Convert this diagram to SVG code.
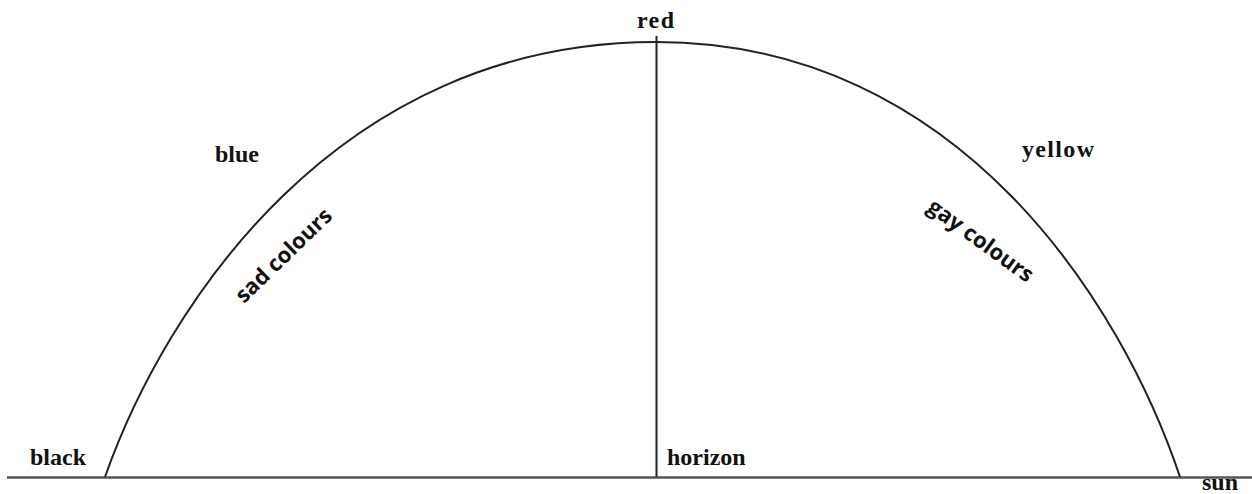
<svg xmlns="http://www.w3.org/2000/svg" width="1252" height="494" viewBox="0 0 1252 494">
<style>
.lbl{font-family:"Liberation Serif",serif;font-weight:bold;font-size:24px;fill:#111}
.rot{font-family:"Open Sans","Liberation Sans",sans-serif;font-weight:bold;font-size:22px;fill:#111}
.ln{fill:none;stroke:#222;stroke-width:2}
</style>
<rect width="1252" height="494" fill="#fff"/>
<g id="connectors">
<line x1="7" y1="477.5" x2="1252" y2="477.5" stroke="#555" stroke-width="2.5"/>
<path class="ln" d="M105,477 C165,307 336,42 656,42 C961,42 1123,307 1180,477"/>
<line class="ln" x1="656.5" y1="36" x2="656.5" y2="477"/>
</g>
<g id="n-red"><text class="lbl" x="637" y="28" textLength="37">red</text></g>
<g id="n-blue"><text class="lbl" x="215" y="162">blue</text></g>
<g id="n-yellow"><text class="lbl" x="1022" y="157" textLength="72">yellow</text></g>
<g id="n-black"><text class="lbl" x="30" y="465">black</text></g>
<g id="n-horizon"><text class="lbl" x="667" y="465">horizon</text></g>
<g id="n-sun"><text class="lbl" x="1202" y="490">sun</text></g>
<g id="n-sad"><text class="rot" transform="translate(244,304) rotate(-44)">sad colours</text></g>
<g id="n-gay"><text class="rot" transform="translate(926,210) rotate(36)">gay colours</text></g>
</svg>
